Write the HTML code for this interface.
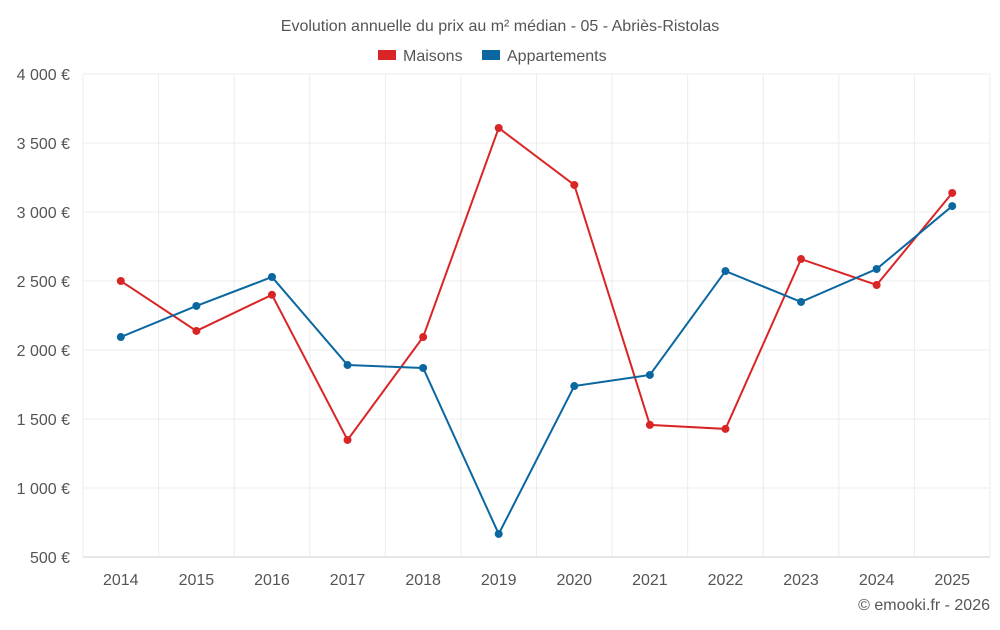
<!DOCTYPE html>
<html><head><meta charset="utf-8"><style>
body{margin:0;background:#fff;font-family:"Liberation Sans",sans-serif;}
svg text{font-family:"Liberation Sans",sans-serif;fill:#555;}
</style></head><body>
<svg id="chart" width="1000" height="625">
<text x="500" y="31" text-anchor="middle" font-size="16">Evolution annuelle du prix au m² médian - 05 - Abriès-Ristolas</text>
<g>
<g><rect x="378" y="50" width="18" height="10" fill="#d92525"/><text x="403" y="61" font-size="16">Maisons</text></g>
<g><rect x="482" y="50" width="18" height="10" fill="#0a67a0"/><text x="507" y="61" font-size="16">Appartements</text></g>
</g>
<g id="grid"></g><g id="axes"></g><g id="series"></g>
<text x="990" y="610" text-anchor="end" font-size="16">© emooki.fr - 2026</text>
</svg>
<script>
const years=["2014","2015","2016","2017","2018","2019","2020","2021","2022","2023","2024","2025"];
const maisons=[2500,2138,2400,1348,2094,3609,3196,1457,1428,2659,2471,3138];
const appartements=[2094,2319,2529,1891,1870,667,1739,1819,2572,2348,2587,3043];
const yTicks=[500,1000,1500,2000,2500,3000,3500,4000];
const yLabels=["500 €","1 000 €","1 500 €","2 000 €","2 500 €","3 000 €","3 500 €","4 000 €"];
const L=83,R=990,T=74,B=557,yMin=500,yMax=4000;
const step=(R-L)/years.length;
const x=i=>L+step*(i+0.5);
const y=v=>B-(v-yMin)/(yMax-yMin)*(B-T);
const NS="http://www.w3.org/2000/svg";
function mk(tag,attrs,parent){const e=document.createElementNS(NS,tag);for(const k in attrs)e.setAttribute(k,attrs[k]);parent.appendChild(e);return e;}
const grid=document.getElementById('grid'),axes=document.getElementById('axes'),ser=document.getElementById('series');
yTicks.forEach((t,i)=>{
 const l=mk('line',{x1:L,x2:R,y1:y(t),y2:y(t),stroke:i==0?'#ccc':'#ececec'},grid);
 
 
 const tx=mk('text',{x:70,y:y(t)+6,'text-anchor':'end','font-size':16},axes);tx.textContent=yLabels[i];
 
 
});
for(let i=0;i<=years.length;i++){
 const l=mk('line',{x1:L+step*i,x2:L+step*i,y1:T,y2:B,stroke:'#ececec'},grid);
 
 
}
years.forEach((yr,i)=>{
 const tx=mk('text',{x:x(i),y:585,'text-anchor':'middle','font-size':16},axes);tx.textContent=yr;
 
 
});
function draw(vals,color,name){
 const p=mk('polyline',{points:vals.map((v,i)=>x(i)+','+y(v)).join(' '),fill:'none',stroke:color,'stroke-width':2},ser);
 
 
 vals.forEach((v,i)=>{
  const c=mk('circle',{cx:x(i),cy:y(v),r:4,fill:color},ser);
  
  
 });
}
draw(maisons,'#d92525','maisons');
draw(appartements,'#0a67a0','appartements');
</script>
</body></html>
